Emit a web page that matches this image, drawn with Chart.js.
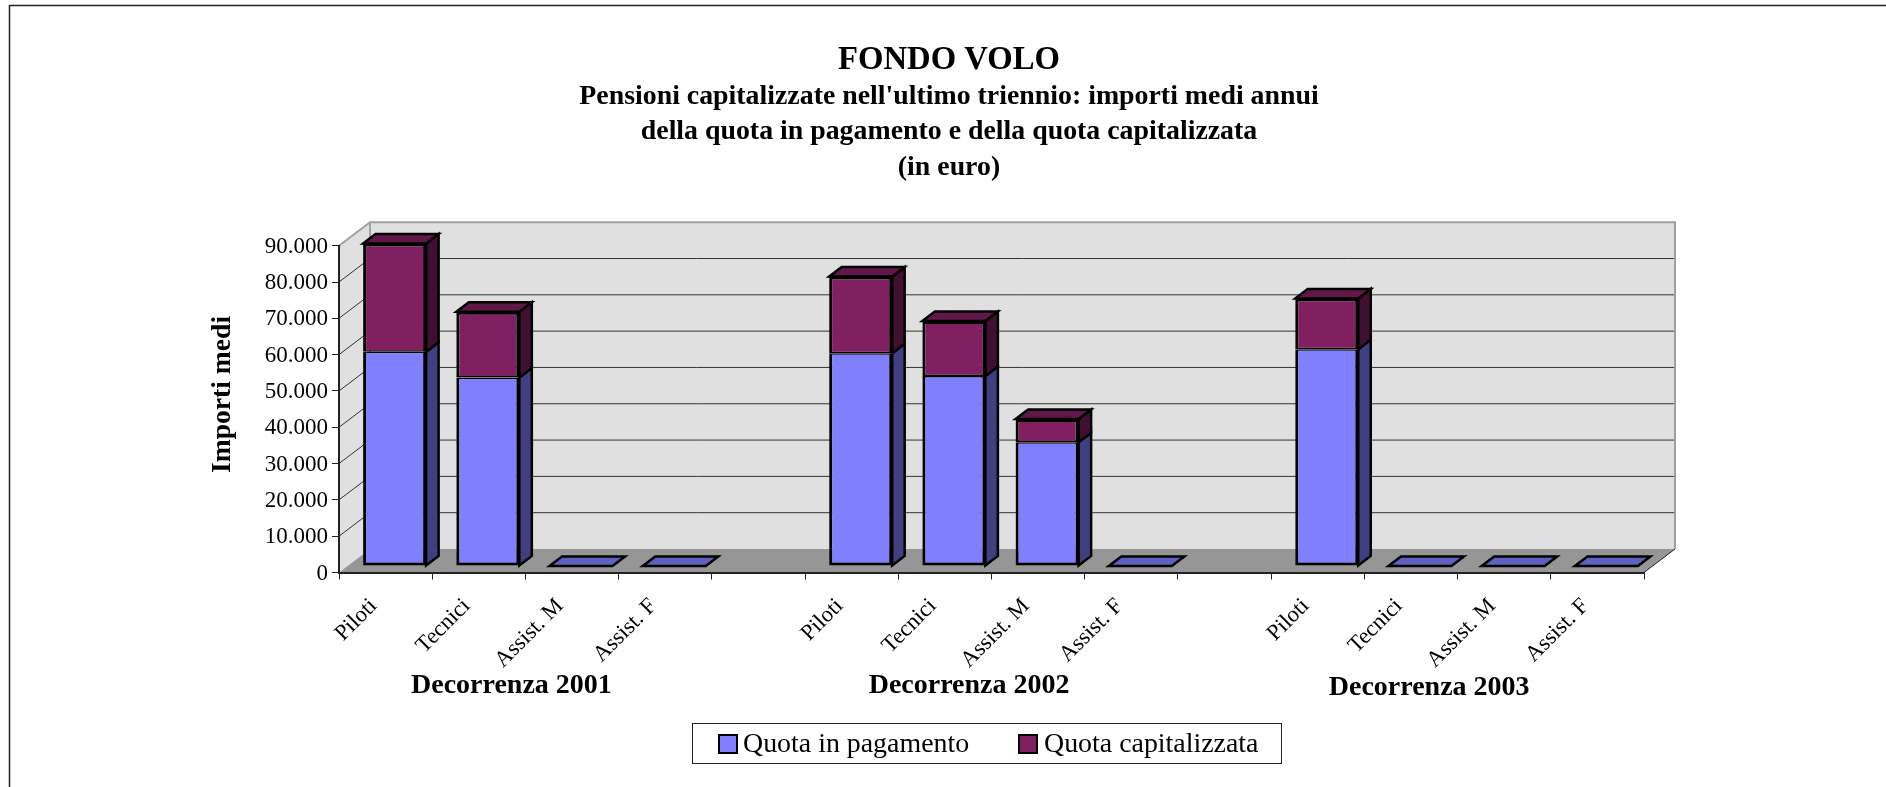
<!DOCTYPE html>
<html><head><meta charset="utf-8">
<style>html,body{margin:0;padding:0;background:#fff}canvas{display:block}</style>
<script src="https://cdn.jsdelivr.net/npm/chart.js@4"></script>
</head><body><canvas id="c" width="1886" height="787"></canvas>
<script>
const categories = ['Piloti','Tecnici','Assist. M','Assist. F','','Piloti','Tecnici','Assist. M','Assist. F','','Piloti','Tecnici','Assist. M','Assist. F'];
const quotaInPagamento   = [59000,51900,0,0,null,58600,52300,34100,0,null,59700,0,0,0];
const quotaCapitalizzata = [29800,18100,0,0,null,21100,15200,6400,0,null,14000,0,0,0];
const seriesNames = ['Quota in pagamento','Quota capitalizzata'];
const groupLabels = ['Decorrenza 2001','Decorrenza 2002','Decorrenza 2003'];
const titleText = 'FONDO VOLO';
const subtitleLines = ["Pensioni capitalizzate nell'ultimo triennio: importi medi annui",'della quota in pagamento e della quota capitalizzata','(in euro)'];
const yAxisTitle = 'Importi medi';

const FONT = '"Liberation Serif","Times New Roman",serif';
const WALL = {dx:31, dy:-23.5};      // depth of the floor
const BAR  = {sx:9, sy:-6.5, dx:12.5, dy:-9.5}; // bar offset and depth
const faces = [
  {front:'#8080ff', side:'#404080', top:'#6060c0'},
  {front:'#802060', side:'#401030', top:'#601848'}
];

function poly(ctx, pts, fill, stroke, lw){
  ctx.beginPath();
  pts.forEach((p,i)=> i ? ctx.lineTo(p[0],p[1]) : ctx.moveTo(p[0],p[1]));
  ctx.closePath();
  if(fill){ctx.fillStyle=fill;ctx.fill();}
  if(stroke){ctx.strokeStyle=stroke;ctx.lineWidth=lw;ctx.lineJoin='miter';ctx.stroke();}
}

const scene = {
  id:'scene',
  beforeDraw(chart){
    const {ctx,chartArea:a,scales:{y}} = chart;
    const {dx,dy} = WALL;
    ctx.save();
    // frame
    ctx.strokeStyle='#222';ctx.lineWidth=1.5;
    ctx.beginPath();ctx.moveTo(9.5,787);ctx.lineTo(9.5,5.5);ctx.lineTo(1886,5.5);ctx.stroke();
    // walls and floor
    poly(ctx,[[a.left+dx,a.top+dy],[a.right+dx,a.top+dy],[a.right+dx,a.bottom+dy],[a.left+dx,a.bottom+dy]],'#e0e0e0');
    poly(ctx,[[a.left,a.top],[a.left+dx,a.top+dy],[a.left+dx,a.bottom+dy],[a.left,a.bottom]],'#e0e0e0');
    poly(ctx,[[a.left,a.bottom],[a.left+dx,a.bottom+dy],[a.right+dx,a.bottom+dy],[a.right,a.bottom]],'#969696');
    // grid on the walls
    ctx.strokeStyle='#333';ctx.lineWidth=1;
    y.ticks.forEach(t=>{
      if(t.value===0||t.value===y.max) return;
      const py=y.getPixelForValue(t.value);
      ctx.beginPath();
      ctx.moveTo(a.left,py);ctx.lineTo(a.left+dx,py+dy);ctx.lineTo(a.right+dx,py+dy);
      ctx.stroke();
    });
    // wall edges
    ctx.strokeStyle='#a0a0a0';ctx.lineWidth=2;
    ctx.beginPath();
    ctx.moveTo(a.left,a.top);ctx.lineTo(a.left+dx,a.top+dy);ctx.lineTo(a.right+dx,a.top+dy);ctx.lineTo(a.right+dx,a.bottom+dy);
    ctx.moveTo(a.left+dx,a.top+dy);ctx.lineTo(a.left+dx,a.bottom+dy);
    ctx.stroke();
    ctx.strokeStyle='#222';ctx.lineWidth=1;
    ctx.beginPath();ctx.moveTo(a.right,a.bottom);ctx.lineTo(a.right+dx,a.bottom+dy);ctx.stroke();
    ctx.restore();
  },
  beforeDatasetsDraw(chart){
    const ctx=chart.ctx;
    const {sx,sy,dx,dy}=BAR;
    ctx.save();
    ctx.translate(sx,sy);
    const metas=[chart.getDatasetMeta(0),chart.getDatasetMeta(1)];
    const n=chart.data.labels.length;
    for(let i=0;i<n;i++){
      const e0=metas[0].data[i], e1=metas[1].data[i];
      if(chart.data.datasets[0].data[i]==null) continue;
      const l=e0.x-e0.width/2, r=e0.x+e0.width/2;
      const isFlat=!chart.data.datasets[0].data[i]&&!chart.data.datasets[1].data[i];
      if(isFlat){
        poly(ctx,[[l,e0.base],[l+dx,e0.base+dy],[r+dx,e0.base+dy],[r,e0.base]],faces[0].top,'#000',2.5);
        continue;
      }
      poly(ctx,[[r,e0.y],[r+dx,e0.y+dy],[r+dx,e0.base+dy],[r,e0.base]],faces[0].side,'#000',2.5);
      poly(ctx,[[r,e1.y],[r+dx,e1.y+dy],[r+dx,e1.base+dy],[r,e1.base]],faces[1].side,'#000',2.5);
      poly(ctx,[[l,e1.y],[l+dx,e1.y+dy],[r+dx,e1.y+dy],[r,e1.y]],faces[1].top,'#000',2.5);
    }
  },
  afterDatasetsDraw(chart){ chart.ctx.restore(); },
  afterDraw(chart){
    const {ctx,scales:{x}}=chart;
    ctx.save();
    // group captions under the categories
    ctx.fillStyle='#000';ctx.textAlign='center';ctx.textBaseline='middle';
    ctx.font='bold 28px '+FONT;
    const groupCats=[[0,3,685.5,-14],[5,8,685.5,-22.4],[10,13,688,-28.4]];
    groupLabels.forEach((g,i)=>{
      const [a,b,py,off]=groupCats[i];
      const cx=(x.getPixelForValue(a)+x.getPixelForValue(b))/2;
      ctx.fillText(g,cx+off,py);
    });
    // y axis caption
    ctx.save();
    ctx.translate(222.5,394.5);ctx.rotate(-Math.PI/2);
    ctx.font='bold 27.6px '+FONT;
    ctx.fillText(yAxisTitle,0,0);
    ctx.restore();
    // legend
    ctx.strokeStyle='#222';ctx.lineWidth=1;
    ctx.strokeRect(692.5,723.5,589,40);
    const entries=[[719,743],[1019,1044]];
    ctx.textAlign='left';ctx.font='27.9px '+FONT;
    chart.data.datasets.forEach((d,i)=>{
      poly(ctx,[[entries[i][0],735],[entries[i][0]+18,735],[entries[i][0]+18,753],[entries[i][0],753]],d.backgroundColor,'#000',2);
      ctx.fillStyle='#000';
      ctx.fillText(d.label,entries[i][1],745);
    });
    ctx.restore();
  }
};

new Chart(document.getElementById('c'),{
  type:'bar',
  data:{labels:categories,datasets:[
    {label:seriesNames[0],data:quotaInPagamento,backgroundColor:faces[0].front,borderColor:'#000',borderWidth:{top:1.5,left:3,right:3,bottom:3},borderSkipped:false,barPercentage:0.676,categoryPercentage:1,clip:false},
    {label:seriesNames[1],data:quotaCapitalizzata,backgroundColor:faces[1].front,borderColor:'#000',borderWidth:{top:3,left:3,right:3,bottom:1.5},borderSkipped:false,barPercentage:0.676,categoryPercentage:1,clip:false}
  ]},
  plugins:[scene],
  options:{
    responsive:false,animation:false,devicePixelRatio:1,
    layout:{padding:{left:12,right:0,top:0,bottom:0}},
    plugins:{
      legend:{display:false},tooltip:{enabled:false},
      title:{display:true,text:titleText,color:'#000',font:{family:FONT,size:32.7,weight:'bold',lineHeight:'36px'},padding:{top:42.6,bottom:0}},
      subtitle:{display:true,text:subtitleLines,color:'#000',font:{family:FONT,size:27.85,weight:'bold',lineHeight:'35.5px'},padding:{top:0,bottom:60.6}}
    },
    scales:{
      x:{stacked:true,offset:true,
        afterFit(s){s.height=214.5;},
        grid:{offset:true,drawOnChartArea:false,drawTicks:true,tickLength:7,color:'#222',lineWidth:1},
        border:{display:true,color:'#222',width:2},
        ticks:{autoSkip:false,minRotation:45,maxRotation:45,padding:13.6,labelOffset:-12,color:'#000',font:{family:FONT,size:22.6}}
      },
      y:{stacked:true,min:0,max:90000,
        afterFit(s){s.width=327;},
        grid:{drawOnChartArea:false,drawTicks:true,tickLength:7,color:'#222',lineWidth:1},
        border:{display:true,color:'#222',width:2},
        ticks:{stepSize:10000,padding:4,labelOffset:1,color:'#000',font:{family:FONT,size:23},callback:v=>String(v).replace(/\B(?=(\d{3})+$)/g,'.')}
      },
      spacer:{position:'right',display:true,min:0,max:1,afterFit(s){s.width=242;},
        grid:{display:false},border:{display:false},ticks:{display:false}}
    }
  }
});
</script></body></html>
